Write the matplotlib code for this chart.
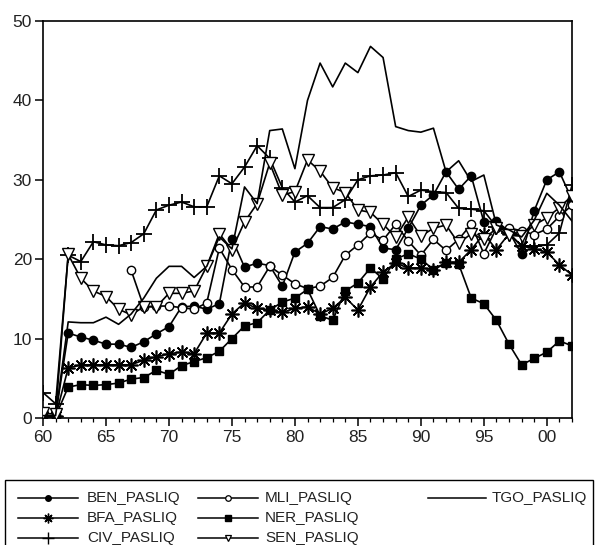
import numpy as np
import matplotlib
matplotlib.use("Agg")
import matplotlib.pyplot as plt
from matplotlib.lines import Line2D
from matplotlib.patches import Rectangle
from matplotlib.ticker import MultipleLocator, FixedLocator

plt.rcParams['font.family'] = ['Liberation Sans', 'DejaVu Sans']

years = np.arange(1960, 2003)
nan = np.nan

ben = [0.3, 0.3, 10.7, 10.2, 9.8, 9.3, 9.3, 8.9, 9.6, 10.6, 11.5, 14.0, 14.1, 13.7, 14.4,
       22.6, 19.0, 19.5, 19.2, 16.6, 20.9, 22.0, 24.1, 23.8, 24.7, 24.4, 24.1, 21.4, 21.2,
       23.9, 26.8, 28.1, 31.0, 28.8, 30.5, 24.7, 24.8, 23.5, 20.6, 26.1, 30.0, 31.0, 27.5]
bfa = [0.2, 0.2, 6.3, 6.7, 6.7, 6.7, 6.7, 6.7, 7.3, 7.7, 8.1, 8.3, 8.1, 10.7, 10.7,
       13.1, 14.5, 13.8, 13.6, 13.3, 13.8, 14.0, 13.1, 13.8, 15.2, 13.6, 16.5, 18.4, 19.5,
       18.9, 18.9, 18.7, 19.6, 19.6, 21.2, 23.2, 21.2, 23.2, 21.7, 21.3, 20.9, 19.3, 18.0]
civ = [3.2, 1.8, 20.5, 19.7, 22.2, 21.8, 21.7, 22.1, 23.2, 26.2, 26.8, 27.2, 26.6, 26.6, 30.5,
       29.5, 31.6, 34.3, 32.7, 29.0, 27.2, 28.0, 26.5, 26.5, 27.5, 30.0, 30.5, 30.6, 30.9,
       27.9, 28.7, 28.5, 28.4, 26.4, 26.3, 26.1, 24.1, 23.3, 21.6, 21.6, 21.8, 23.3, 29.3]
mli = [nan, nan, nan, nan, nan, nan, nan, 18.6, 14.0, 14.1, 14.1, 13.9, 13.7, 14.5, 21.4,
       18.7, 16.5, 16.5, 19.1, 18.0, 16.9, 16.3, 16.6, 17.7, 20.5, 21.8, 23.3, 22.4, 24.4,
       22.3, 20.5, 22.5, 21.1, 22.5, 24.4, 20.7, 23.9, 23.9, 23.6, 23.1, 23.8, 25.4, 26.8]
ner = [0.1, 0.2, 3.9, 4.2, 4.1, 4.2, 4.4, 4.9, 5.1, 6.0, 5.5, 6.6, 7.1, 7.6, 8.4,
       10.0, 11.6, 12.0, 13.6, 14.6, 15.1, 16.2, 12.9, 12.3, 16.0, 17.0, 18.9, 17.5, 20.0,
       20.7, 20.0, 18.7, 19.5, 19.4, 15.1, 14.4, 12.3, 9.3, 6.7, 7.5, 8.3, 9.7, 9.1]
sen = [0.6, 0.5, 20.6, 17.6, 16.0, 15.3, 13.7, 13.0, 14.0, 14.0, 15.7, 15.7, 16.0, 19.1, 23.2,
       21.2, 24.7, 27.0, 32.1, 28.1, 28.5, 32.5, 31.1, 29.0, 28.4, 26.2, 25.9, 24.4, 22.8,
       25.3, 22.9, 23.9, 24.3, 22.0, 23.2, 22.5, 23.9, 23.0, 22.9, 24.3, 25.2, 26.5, 28.0]
tgo = [0.3, 0.3, 12.1, 12.0, 12.0, 12.7, 11.8, 13.1, 15.1, 17.6, 19.1, 19.1, 17.7, 19.1, 22.8,
       21.3, 29.1, 27.0, 36.2, 36.4, 31.4, 40.0, 44.7, 41.7, 44.7, 43.5, 46.8, 45.4, 36.7,
       36.2, 36.0, 36.5, 31.0, 32.4, 29.8, 30.6, 24.3, 23.7, 22.8, 24.9, 28.3, 26.8, 24.8]

names = ["BEN_PASLIQ", "BFA_PASLIQ", "CIV_PASLIQ", "MLI_PASLIQ", "NER_PASLIQ", "SEN_PASLIQ", "TGO_PASLIQ"]
series = [ben, bfa, civ, mli, ner, sen, tgo]
xtick_labels = ["60", "65", "70", "75", "80", "85", "90", "95", "00"]

AST = (8, 2, 0)
styles = [
    dict(marker='o', ms=6, mfc='black', mec='black'),
    dict(marker=AST, ms=10, mfc='black', mec='black', mew=1.2),
    dict(marker='+', ms=11, mfc='black', mec='black', mew=1.3),
    dict(marker='o', ms=6, mfc='white', mec='black', mew=1.0),
    dict(marker='s', ms=6, mfc='black', mec='black'),
    dict(marker='v', ms=8, mfc='white', mec='black', mew=1.0),
    dict(marker='None'),
]
leg_styles = [
    dict(marker='o', ms=4, mfc='black', mec='black'),
    dict(marker=AST, ms=7, mfc='black', mec='black', mew=1.0),
    dict(marker='+', ms=8, mfc='black', mec='black', mew=1.0),
    dict(marker='o', ms=4, mfc='white', mec='black', mew=0.9),
    dict(marker='s', ms=4, mfc='black', mec='black'),
    dict(marker='v', ms=5, mfc='white', mec='black', mew=0.9),
    dict(marker='None'),
]

W, H = 596, 545
fig = plt.figure(figsize=(W / 100, H / 100), dpi=100)
ax = fig.add_axes([43 / W, (H - 418) / H, (572 - 43) / W, (418 - 21) / H])

for vals, st in zip(series, styles):
    ax.plot(years, vals, color='black', lw=1.2, zorder=3, **st)

ax.set_xlim(1960, 2002)
ax.set_ylim(0, 50)
ax.xaxis.set_major_locator(FixedLocator(np.arange(1960, 2001, 5)))
ax.set_xticklabels(xtick_labels)
ax.xaxis.set_minor_locator(MultipleLocator(1))
ax.yaxis.set_major_locator(MultipleLocator(10))
ax.tick_params(axis='both', which='major', direction='out', length=6, width=1.1,
               labelsize=12.5, color='black', labelcolor='#222222')
ax.tick_params(axis='x', which='minor', direction='out', length=3, width=0.9)
ax.tick_params(axis='x', pad=3)
ax.tick_params(axis='y', pad=2)
for s in ax.spines.values():
    s.set_linewidth(1.2)
    s.set_color('black')

# Legend box (figure pixel coordinates)
def fx(px):
    return px / W

def fy(py):
    return 1 - py / H

fig.patches.append(Rectangle((fx(5), fy(552)), fx(593) - fx(5), fy(480) - fy(552),
                             transform=fig.transFigure, fill=False, ec='black', lw=1.0))

rows = [498, 518, 538]
cols = [(18, 78, 87), (198, 258, 265), (428, 486, 492)]
layout = [(0, 0), (0, 1), (0, 2), (1, 0), (1, 1), (1, 2), (2, 0)]
for name, st, (c, r) in zip(names, leg_styles, layout):
    x0, x1, xt = cols[c]
    y = rows[r]
    ln = Line2D([fx(x0), fx((x0 + x1) / 2), fx(x1)], [fy(y)] * 3, transform=fig.transFigure,
                color='black', lw=1.1, markevery=[1], **st)
    fig.add_artist(ln)
    fig.text(fx(xt), fy(y), name, transform=fig.transFigure, ha='left', va='center',
             fontsize=11, color='#222222')

fig.savefig("out.png", dpi=100)
